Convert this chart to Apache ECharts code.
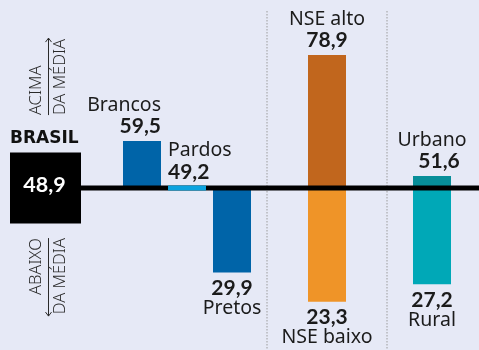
<!DOCTYPE html>
<html>
<head>
<meta charset="utf-8">
<script src="https://cdn.jsdelivr.net/npm/echarts@6/dist/echarts.min.js"></script>
<style>
  html, body { margin: 0; padding: 0; background: #E6E9F6; }
  #chart { width: 479px; height: 350px; }
</style>
</head>
<body>
<div id="chart"></div>
<script>
// Média nacional e recortes
const mediaBrasil = 48.9;
const racaCategorias = ['Brancos', 'Pardos', 'Pretos'];
const racaValores = [59.5, 49.2, 29.9];
const nseCategorias = ['NSE alto', 'NSE baixo'];
const nseValores = [78.9, 23.3];
const localCategorias = ['Urbano', 'Rural'];
const localValores = [51.6, 27.2];

// Estilo
const cores = {
  'Brancos': '#0064A8', 'Pardos': '#0BA3DF', 'Pretos': '#0064A8',
  'NSE alto': '#C1661D', 'NSE baixo': '#EF9428',
  'Urbano': '#078E99', 'Rural': '#00A8B7'
};
const rotuloAlinhamento = { 'Brancos': 'right', 'Pardos': 'left' };
const deslocValor = { 'Urbano': 7 };
const FONTE = '"Noto Sans", sans-serif';
const FONTE_NUM = 'Lato, sans-serif';
const COR_TEXTO = '#1b1b1b';
const LARG_BARRA = 38;
const ESP_LINHA = 5;
const K_MEIO = 0.36; // distância da linha de base ao meio do texto, em em

const fmt = v => v.toFixed(1).replace('.', ',');

function texto(str, x, base, align, size, weight, familia, fill) {
  return {
    type: 'text',
    style: {
      text: str, x: x, y: base - K_MEIO * size,
      align: align, verticalAlign: 'middle',
      font: weight + ' ' + size + 'px ' + familia,
      fill: fill || COR_TEXTO
    }
  };
}

function barras(nomes) {
  return function (params, api) {
    const nome = nomes[params.dataIndex];
    const v = api.value(1);
    const p = api.coord([api.value(0), v]);
    const b = api.coord([api.value(0), mediaBrasil]);
    const acima = v >= mediaBrasil;
    const x0 = p[0] - LARG_BARRA / 2;
    const alinh = rotuloAlinhamento[nome] || 'center';
    const tx = alinh === 'right' ? x0 + LARG_BARRA : (alinh === 'left' ? x0 : p[0]);
    const dv = deslocValor[nome] || 0;
    let baseValor, baseNome;
    if (acima) { baseValor = p[1] - 7; baseNome = p[1] - 29; }
    else { baseValor = p[1] + 23; baseNome = p[1] + 43; }
    return {
      type: 'group',
      children: [
        {
          type: 'rect',
          shape: { x: x0, y: Math.min(p[1], b[1]), width: LARG_BARRA, height: Math.abs(b[1] - p[1]) },
          style: { fill: cores[nome] }
        },
        texto(fmt(v), tx + dv, baseValor, alinh, 21, 'bold', FONTE_NUM),
        texto(nome, tx, baseNome, alinh, 19.5, 'normal', FONTE)
      ]
    };
  };
}

// Barras muito próximas da média aparecem como uma faixa sobre a linha
function faixaMedia(nomes) {
  return function (params, api) {
    const nome = nomes[params.dataIndex];
    const p = api.coord([api.value(0), api.value(1)]);
    const b = api.coord([api.value(0), mediaBrasil]);
    if (Math.abs(p[1] - b[1]) >= ESP_LINHA) return null;
    return {
      type: 'rect',
      shape: { x: p[0] - LARG_BARRA / 2, y: b[1] - ESP_LINHA / 2, width: LARG_BARRA, height: ESP_LINHA },
      style: { fill: cores[nome] }
    };
  };
}

const gridTop = 5.75, gridBottom = 33.7;
const grids = [
  { left: 119.5, width: 135, top: gridTop, bottom: gridBottom },
  { left: 267, width: 120, top: gridTop, bottom: gridBottom },
  { left: 387, width: 90, top: gridTop, bottom: gridBottom }
];

const eixoX = (i, dados) => ({
  type: 'category', gridIndex: i, data: dados, show: false, boundaryGap: true
});
const eixoY = i => ({
  type: 'value', gridIndex: i, min: 20, max: 90, show: false, splitLine: { show: false }
});

const dadosRaca = racaValores.map((v, i) => [i, v]);
const dadosNse = nseValores.map(v => [0, v]);
const dadosLocal = localValores.map(v => [0, v]);

const chart = echarts.init(document.getElementById('chart'), null, { renderer: 'canvas' });
chart.setOption({
  backgroundColor: '#E6E9F6',
  animation: false,
  grid: grids,
  xAxis: [eixoX(0, racaCategorias), eixoX(1, ['NSE']), eixoX(2, ['Localização'])],
  yAxis: [eixoY(0), eixoY(1), eixoY(2)],
  series: [
    { type: 'custom', name: 'Raça', xAxisIndex: 0, yAxisIndex: 0, z: 2, data: dadosRaca, renderItem: barras(racaCategorias) },
    { type: 'custom', name: 'NSE', xAxisIndex: 1, yAxisIndex: 1, z: 2, data: dadosNse, renderItem: barras(nseCategorias) },
    { type: 'custom', name: 'Localização', xAxisIndex: 2, yAxisIndex: 2, z: 2, data: dadosLocal, renderItem: barras(localCategorias) },
    { type: 'custom', name: 'Faixa', xAxisIndex: 0, yAxisIndex: 0, z: 4, data: dadosRaca, renderItem: faixaMedia(racaCategorias) }
  ]
});

// Linha da média, caixa BRASIL, setas e divisórias
const yb = chart.convertToPixel({ yAxisIndex: 0 }, mediaBrasil);
const W = chart.getWidth(), H = chart.getHeight();
const xCaixa = 10, larCaixa = 71;
const xSeta = 48.5;
const fonteSeta = '300 16.5px ' + FONTE;
const corSeta = '#2a2a2a';

function textoVertical(str, x, y, align) {
  return {
    type: 'text', x: x, y: y, rotation: Math.PI / 2,
    style: { text: str, align: align, verticalAlign: 'bottom', font: fonteSeta, fill: corSeta }
  };
}

const topoSetaCima = yb - 150, baseSetaCima = yb - 73;
const topoSetaBaixo = yb + 50, baseSetaBaixo = yb + 128;

chart.setOption({
  graphic: [
    // divisórias pontilhadas
    { type: 'line', z: 1, shape: { x1: grids[1].left, y1: 11, x2: grids[1].left, y2: H },
      style: { stroke: '#9c9c9c', lineWidth: 1, lineDash: [1.5, 1.5] } },
    { type: 'line', z: 1, shape: { x1: grids[2].left, y1: 11, x2: grids[2].left, y2: H },
      style: { stroke: '#9c9c9c', lineWidth: 1, lineDash: [1.5, 1.5] } },
    // linha da média
    { type: 'line', z: 3, shape: { x1: xCaixa + larCaixa, y1: yb, x2: W, y2: yb },
      style: { stroke: '#000', lineWidth: ESP_LINHA } },
    // caixa BRASIL
    { type: 'rect', z: 3, shape: { x: xCaixa, y: yb - 35.5, width: larCaixa, height: 71 }, style: { fill: '#000' } },
    { type: 'text', z: 4, style: { text: fmt(mediaBrasil), x: xCaixa + larCaixa / 2 - 1, y: yb + 5 - K_MEIO * 21.5,
        align: 'center', verticalAlign: 'middle', font: 'bold 21.5px ' + FONTE_NUM, fill: '#fff' } },
    { type: 'text', z: 4, style: { text: 'BRASIL', x: xCaixa, y: yb - 43 - K_MEIO * 17,
        align: 'left', verticalAlign: 'middle', font: 'bold 17px "DejaVu Sans", sans-serif', fill: '#111' } },
    // seta acima da média
    { type: 'line', z: 3, shape: { x1: xSeta, y1: topoSetaCima, x2: xSeta, y2: baseSetaCima },
      style: { stroke: corSeta, lineWidth: 1 } },
    { type: 'polyline', z: 3, shape: { points: [[xSeta - 3, topoSetaCima + 4], [xSeta, topoSetaCima], [xSeta + 3, topoSetaCima + 4]] },
      style: { stroke: corSeta, lineWidth: 1, fill: null } },
    textoVertical('ACIMA', 45, baseSetaCima, 'left'),
    textoVertical('DA MÉDIA', 68.5, baseSetaCima, 'left'),
    // seta abaixo da média
    { type: 'line', z: 3, shape: { x1: xSeta, y1: topoSetaBaixo, x2: xSeta, y2: baseSetaBaixo },
      style: { stroke: corSeta, lineWidth: 1 } },
    { type: 'polyline', z: 3, shape: { points: [[xSeta - 3, baseSetaBaixo - 4], [xSeta, baseSetaBaixo], [xSeta + 3, baseSetaBaixo - 4]] },
      style: { stroke: corSeta, lineWidth: 1, fill: null } },
    textoVertical('ABAIXO', 45, topoSetaBaixo, 'right'),
    textoVertical('DA MÉDIA', 68.5, topoSetaBaixo, 'right')
  ]
});
</script>
</body>
</html>
